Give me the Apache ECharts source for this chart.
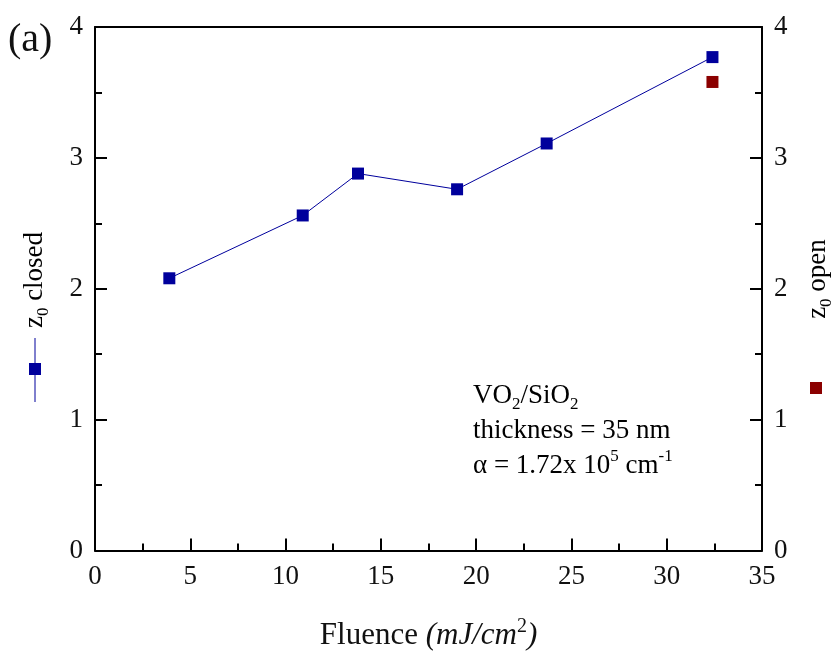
<!DOCTYPE html>
<html>
<head>
<meta charset="utf-8">
<script src="https://cdn.jsdelivr.net/npm/echarts@6/dist/echarts.min.js"></script>
<style>
  html, body { margin: 0; padding: 0; background: #fff; }
  #chart { width: 836px; height: 656px; }
</style>
</head>
<body>
<div id="chart"></div>
<script>
// values
const fluence = [3.9, 10.9, 13.8, 19.0, 23.7, 32.4]
const z0Closed = [2.08, 2.56, 2.88, 2.76, 3.11, 3.77]
const fluenceOpen = [32.4]
const z0Open = [3.58]
const xRange = [0, 35, 5]
const yRange = [0, 4, 1]

const FONT = "'Liberation Serif', 'Times New Roman', serif"
const BLUE = '#00009c'
const RED = '#8b0000'
const INK = '#111'

const chart = echarts.init(document.getElementById('chart'))

const sub = { fontFamily: FONT, fontSize: 17, lineHeight: 22, verticalAlign: 'bottom', color: INK }
const sup = { fontFamily: FONT, fontSize: 17, lineHeight: 22, verticalAlign: 'top', color: INK }
const base = { fontFamily: FONT, fontSize: 27, lineHeight: 35, color: INK }
const big = { fontFamily: FONT, fontSize: 31, lineHeight: 38, color: INK }

const axisLine = { show: true, onZero: false, lineStyle: { color: '#000', width: 2 } }
const tick = { show: true, inside: true, length: 12, lineStyle: { color: '#000', width: 2 } }
const minor = { show: true, splitNumber: 2, length: 7, lineStyle: { color: '#000', width: 2 } }

function yAxisOpt (pos) {
  return {
    type: 'value',
    position: pos,
    min: yRange[0],
    max: yRange[1],
    interval: yRange[2],
    axisLine: axisLine,
    axisTick: tick,
    minorTick: minor,
    axisLabel: { color: INK, fontFamily: FONT, fontSize: 27, margin: 12 },
    splitLine: { show: false },
    minorSplitLine: { show: false }
  }
}

const option = {
  animation: false,
  backgroundColor: '#fff',
  grid: { left: 95, right: 74, top: 27, bottom: 101 },
  xAxis: [
    {
      type: 'value',
      min: xRange[0],
      max: xRange[1],
      interval: xRange[2],
      axisLine: axisLine,
      axisTick: tick,
      minorTick: minor,
      axisLabel: { color: INK, fontFamily: FONT, fontSize: 27, margin: 13 },
      splitLine: { show: false },
      minorSplitLine: { show: false },
      name: '{b|Fluence }{i|(mJ/cm}{s|2}{i|)}',
      nameLocation: 'middle',
      nameGap: 66,
      nameTextStyle: {
        rich: {
          b: big,
          i: Object.assign({}, big, { fontStyle: 'italic' }),
          s: { fontFamily: FONT, fontSize: 20, lineHeight: 24, verticalAlign: 'top', color: INK }
        }
      }
    },
    {
      // top frame line only
      type: 'value',
      position: 'top',
      min: xRange[0],
      max: xRange[1],
      interval: xRange[2],
      axisLine: axisLine,
      axisTick: { show: false },
      axisLabel: { show: false },
      splitLine: { show: false }
    }
  ],
  yAxis: [yAxisOpt('left'), yAxisOpt('right')],
  series: [
    {
      name: 'z0 closed',
      type: 'line',
      yAxisIndex: 0,
      data: fluence.map((x, i) => [x, z0Closed[i]]),
      symbol: 'rect',
      symbolSize: 12,
      itemStyle: { color: BLUE, opacity: 1 },
      lineStyle: { color: BLUE, width: 1 }
    },
    {
      name: 'z0 open',
      type: 'scatter',
      yAxisIndex: 1,
      data: fluenceOpen.map((x, i) => [x, z0Open[i]]),
      symbol: 'rect',
      symbolSize: 12,
      itemStyle: { color: RED, opacity: 1 }
    }
  ],
  graphic: [
    {
      type: 'text', left: 8, top: 20,
      style: { text: '(a)', font: '40px ' + FONT, fill: INK }
    },
    // left axis title with its legend key
    {
      type: 'text', x: 35, y: 280, rotation: Math.PI / 2,
      style: {
        text: '{b|z}{s|0}{b| closed}',
        align: 'center', verticalAlign: 'middle',
        rich: { b: base, s: sub }
      }
    },
    { type: 'line', shape: { x1: 35, y1: 338, x2: 35, y2: 402 }, style: { stroke: BLUE, lineWidth: 1 } },
    { type: 'rect', shape: { x: 29, y: 363, width: 12, height: 12 }, style: { fill: BLUE } },
    // right axis title with its legend key
    {
      type: 'text', x: 818, y: 279, rotation: Math.PI / 2,
      style: {
        text: '{b|z}{s|0}{b| open}',
        align: 'center', verticalAlign: 'middle',
        rich: { b: base, s: sub }
      }
    },
    { type: 'rect', shape: { x: 810, y: 382, width: 12, height: 12 }, style: { fill: RED } },
    // sample note
    {
      type: 'text', x: 473, y: 378,
      style: {
        text: '{b|VO}{s|2}{b|/SiO}{s|2}\n{b|thickness = 35 nm}\n{b|α = 1.72x 10}{p|5}{b| cm}{p|-1}',
        align: 'left', verticalAlign: 'top',
        rich: { b: base, s: sub, p: sup }
      }
    }
  ]
}

chart.setOption(option)
</script>
</body>
</html>
